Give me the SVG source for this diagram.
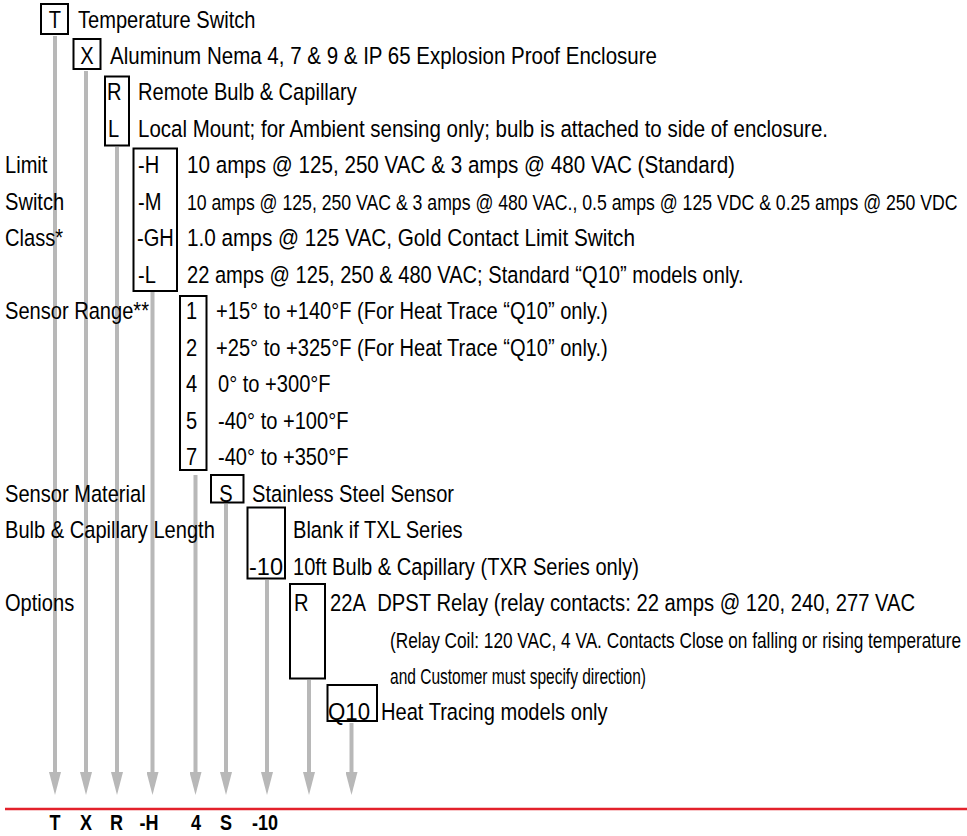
<svg xmlns="http://www.w3.org/2000/svg" width="967" height="836" viewBox="0 0 967 836">
<style>
text{font-family:"Liberation Sans",Arial,sans-serif;font-size:24.5px;fill:#000}
.s{font-size:21.5px}
.r{font-size:22.5px}
.m{text-anchor:middle}
.b{font-weight:bold;font-size:22.5px;text-anchor:middle}
.box{fill:none;stroke:#000;stroke-width:2}
.arr{stroke:#b8b8b8;stroke-width:4;fill:none;marker-end:url(#ah)}
</style>
<defs>
<marker id="ah" markerUnits="userSpaceOnUse" viewBox="0 0 23 12" markerWidth="23" markerHeight="12" refX="3" refY="6" orient="auto">
<path d="M0,0 L23,6 L0,12 z" fill="#b8b8b8"/>
</marker>
</defs>
<rect width="967" height="836" fill="#fff"/>
<g id="connectors">
<line class="arr" x1="55" y1="36" x2="55" y2="775"/>
<line class="arr" x1="86" y1="71" x2="86" y2="775"/>
<line class="arr" x1="117" y1="147" x2="117" y2="775"/>
<line class="arr" x1="152.5" y1="292" x2="152.5" y2="775"/>
<line class="arr" x1="195.5" y1="475" x2="195.5" y2="775"/>
<line class="arr" x1="226" y1="504" x2="226" y2="775"/>
<line class="arr" x1="267" y1="580" x2="267" y2="775"/>
<line class="arr" x1="309" y1="680" x2="309" y2="775"/>
<line class="arr" x1="351.5" y1="723" x2="351.5" y2="775"/>
</g>
<line id="baseline" x1="5" y1="809" x2="967" y2="809" stroke="#e3212b" stroke-width="2.5"/>
<g id="labels">
<text transform="translate(5,173.4) scale(.82,1)">Limit</text>
<text transform="translate(5,209.9) scale(.82,1)">Switch</text>
<text transform="translate(5,246.3) scale(.82,1)">Class*</text>
<text transform="translate(5,319.3) scale(.82,1)">Sensor Range**</text>
<text transform="translate(5,501.6) scale(.82,1)">Sensor Material</text>
<text transform="translate(5,538.1) scale(.82,1)">Bulb &amp; Capillary Length</text>
<text transform="translate(5,611) scale(.82,1)">Options</text>
</g>
<g id="node-T">
<rect class="box" x="41" y="4" width="27" height="30"/>
<text class="m" transform="translate(55,27.5) scale(.82,1)">T</text>
<text transform="translate(78,27.5) scale(.82,1)">Temperature Switch</text>
</g>
<g id="node-X">
<rect class="box" x="73.5" y="39" width="27" height="30"/>
<text class="m" transform="translate(87,64) scale(.82,1)">X</text>
<text x="110" y="64" textLength="547" lengthAdjust="spacingAndGlyphs">Aluminum Nema 4, 7 &amp; 9 &amp; IP 65 Explosion Proof Enclosure</text>
</g>
<g id="node-mount">
<rect class="box" x="105" y="76.5" width="24" height="69"/>
<text transform="translate(107,100.4) scale(.82,1)">R</text>
<text transform="translate(138,100.4) scale(.82,1)">Remote Bulb &amp; Capillary</text>
<text transform="translate(108,136.9) scale(.82,1)">L</text>
<text x="138" y="136.9" textLength="690" lengthAdjust="spacingAndGlyphs">Local Mount; for Ambient sensing only; bulb is attached to side of enclosure.</text>
</g>
<g id="node-switch-class">
<rect class="box" x="133.5" y="148.5" width="43.5" height="142.5"/>
<text transform="translate(138,173.4) scale(.82,1)">-H</text>
<text x="187" y="173.4" textLength="548" lengthAdjust="spacingAndGlyphs">10 amps @ 125, 250 VAC &amp; 3 amps @ 480 VAC (Standard)</text>
<text transform="translate(138,209.9) scale(.82,1)">-M</text>
<text class="s" transform="translate(187,209.9) scale(.822,1)">10 amps @ 125, 250 VAC &amp; 3 amps @ 480 VAC., 0.5 amps @ 125 VDC &amp; 0.25 amps @ 250 VDC</text>
<text transform="translate(137,246.3) scale(.82,1)">-GH</text>
<text x="187" y="246.3" textLength="448" lengthAdjust="spacingAndGlyphs">1.0 amps @ 125 VAC, Gold Contact Limit Switch</text>
<text transform="translate(138,282.8) scale(.82,1)">-L</text>
<text transform="translate(187,282.8) scale(.82,1)">22 amps @ 125, 250 &amp; 480 VAC; Standard “Q10” models only.</text>
</g>
<g id="node-range">
<rect class="box" x="180" y="296" width="26.5" height="174"/>
<text transform="translate(186,319.3) scale(.82,1)">1</text>
<text transform="translate(216,319.3) scale(.82,1)">+15° to +140°F (For Heat Trace “Q10” only.)</text>
<text transform="translate(186,355.7) scale(.82,1)">2</text>
<text transform="translate(216,355.7) scale(.82,1)">+25° to +325°F (For Heat Trace “Q10” only.)</text>
<text transform="translate(186,392.2) scale(.82,1)">4</text>
<text transform="translate(218,392.2) scale(.82,1)">0° to +300°F</text>
<text transform="translate(186,428.7) scale(.82,1)">5</text>
<text transform="translate(218,428.7) scale(.82,1)">-40° to +100°F</text>
<text transform="translate(186,465.1) scale(.82,1)">7</text>
<text transform="translate(218,465.1) scale(.82,1)">-40° to +350°F</text>
</g>
<g id="node-material">
<rect class="box" x="211" y="475" width="32.5" height="27.5"/>
<text class="m" transform="translate(226,501.6) scale(.82,1)">S</text>
<text transform="translate(252,501.6) scale(.82,1)">Stainless Steel Sensor</text>
</g>
<g id="node-length">
<rect class="box" x="247.5" y="507.5" width="37.5" height="71"/>
<text transform="translate(293,538.1) scale(.82,1)">Blank if TXL Series</text>
<text x="249" y="574.6" textLength="34" lengthAdjust="spacingAndGlyphs">-10</text>
<text transform="translate(293,574.6) scale(.82,1)">10ft Bulb &amp; Capillary (TXR Series only)</text>
</g>
<g id="node-relay">
<rect class="box" x="290" y="584" width="35" height="94.5"/>
<text transform="translate(294,611) scale(.82,1)">R</text>
<text transform="translate(330,611) scale(.826,1)">22A&#160; DPST Relay (relay contacts: 22 amps @ 120, 240, 277 VAC</text>
<text class="r" transform="translate(390,647.5) scale(.766,1)">(Relay Coil: 120 VAC, 4 VA. Contacts Close on falling or rising temperature</text>
<text class="r" transform="translate(390,684) scale(.69,1)">and Customer must specify direction)</text>
</g>
<g id="node-q10">
<rect class="box" x="327.5" y="685" width="49.5" height="36"/>
<text x="328" y="720.4" textLength="42" lengthAdjust="spacingAndGlyphs">Q10</text>
<text transform="translate(381,720.4) scale(.82,1)">Heat Tracing models only</text>
</g>
<g id="code">
<text class="b" transform="translate(55,830) scale(.8,1)">T</text>
<text class="b" transform="translate(86,830) scale(.8,1)">X</text>
<text class="b" transform="translate(116.5,830) scale(.8,1)">R</text>
<text class="b" transform="translate(149,830) scale(.8,1)">-H</text>
<text class="b" transform="translate(196,830) scale(.8,1)">4</text>
<text class="b" transform="translate(226,830) scale(.8,1)">S</text>
<text class="b" transform="translate(265,830) scale(.8,1)">-10</text>
</g>
</svg>
